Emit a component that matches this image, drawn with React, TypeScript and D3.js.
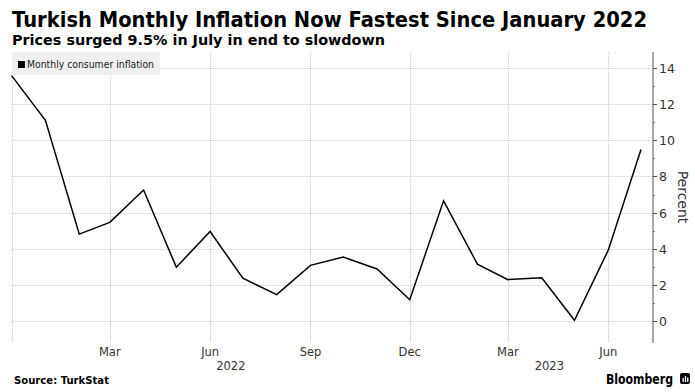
import React, { useEffect, useRef } from "react";
import * as d3 from "d3";

const W = 695;
const H = 392;

// monthly CPI change, Dec 2021 .. Jul 2023
const months = [
  "2021-12", "2022-01", "2022-02", "2022-03", "2022-04", "2022-05", "2022-06",
  "2022-07", "2022-08", "2022-09", "2022-10", "2022-11", "2022-12",
  "2023-01", "2023-02", "2023-03", "2023-04", "2023-05", "2023-06", "2023-07",
];
const inflation = [
  13.58, 11.1, 4.81, 5.46, 7.25, 2.98, 4.95, 2.37, 1.46, 3.08, 3.54, 2.88, 1.18,
  6.65, 3.15, 2.29, 2.39, 0.04, 3.92, 9.49,
];
const monthTicks = ["2022-03", "2022-06", "2022-09", "2022-12", "2023-03", "2023-06"];
const monthLabels = ["Mar", "Jun", "Sep", "Dec", "Mar", "Jun"];
const yearLabels = [
  { label: "2022", at: "2022-06-20" },
  { label: "2023", at: "2023-04-08" },
];
const yTicks = [0, 2, 4, 6, 8, 10, 12, 14];
const yMinor = [1, 3, 5, 7, 9, 11, 13];

const parseMonth = d3.timeParse("%Y-%m");
const parseDay = d3.timeParse("%Y-%m-%d");

const App = () => {
  const svgRef = useRef<SVGSVGElement>(null);

  useEffect(() => {
    const svg = d3.select(svgRef.current);
    svg.selectAll("*").remove();

    const left = 11.6;
    const right = 653;
    const top = 52;
    const bottom = 343;

    const x = d3
      .scaleTime()
      .domain([parseMonth("2021-12")!, parseDay("2023-07-12")!])
      .range([left, right]);
    const y = d3.scaleLinear().domain([0, 14]).range([321, 68]);

    const font = "DejaVu Sans, Verdana, sans-serif";

    // title
    svg.append("text")
      .attr("x", 12).attr("y", 27)
      .attr("font-family", font).attr("font-weight", "bold")
      .attr("font-size", 21)
      .attr("textLength", 635).attr("lengthAdjust", "spacingAndGlyphs")
      .attr("fill", "#000")
      .text("Turkish Monthly Inflation Now Fastest Since January 2022");
    svg.append("text")
      .attr("x", 12).attr("y", 45)
      .attr("font-family", font).attr("font-weight", "bold")
      .attr("font-size", 14.5)
      .attr("textLength", 373).attr("lengthAdjust", "spacingAndGlyphs")
      .attr("fill", "#000")
      .text("Prices surged 9.5% in July in end to slowdown");

    // gridlines
    const grid = svg.append("g")
      .attr("stroke", "#c8c8c8").attr("stroke-width", 1)
      .attr("stroke-dasharray", "1,1").attr("fill", "none");
    yTicks.forEach((v) => {
      grid.append("line")
        .attr("x1", left).attr("x2", right)
        .attr("y1", Math.round(y(v)) + 0.5).attr("y2", Math.round(y(v)) + 0.5);
    });
    [months[0], ...monthTicks].forEach((m) => {
      const xx = Math.round(x(parseMonth(m)!)) + 0.5;
      grid.append("line")
        .attr("x1", xx).attr("x2", xx)
        .attr("y1", top).attr("y2", bottom - 1);
    });

    // legend
    svg.append("rect")
      .attr("x", 12).attr("y", 52).attr("width", 148).attr("height", 23)
      .attr("fill", "#efefef");
    svg.append("rect")
      .attr("x", 18).attr("y", 61).attr("width", 7).attr("height", 7)
      .attr("fill", "#000");
    svg.append("text")
      .attr("x", 27).attr("y", 67.5)
      .attr("font-family", font).attr("font-size", 10.5)
      .attr("textLength", 127).attr("lengthAdjust", "spacingAndGlyphs")
      .attr("fill", "#222")
      .text("Monthly consumer inflation");

    // line
    const line = d3.line<number>()
      .x((_, i) => x(parseMonth(months[i])!))
      .y((d) => y(d));
    svg.append("path")
      .datum(inflation)
      .attr("d", line)
      .attr("fill", "none")
      .attr("stroke", "#000")
      .attr("stroke-width", 1.5)
      .attr("stroke-linejoin", "miter");

    // right axis
    const axis = svg.append("g");
    axis.append("line")
      .attr("x1", right).attr("x2", right)
      .attr("y1", top).attr("y2", bottom)
      .attr("stroke", "#8a8a8a").attr("stroke-width", 1.5);
    yTicks.forEach((v) => {
      const yy = Math.round(y(v)) + 0.5;
      axis.append("line")
        .attr("x1", right).attr("x2", right + 4)
        .attr("y1", yy).attr("y2", yy)
        .attr("stroke", "#555");
      axis.append("text")
        .attr("x", right + 6).attr("y", yy + 4.5)
        .attr("font-family", font).attr("font-size", 12.5)
        .attr("fill", "#333")
        .text(String(v));
    });
    yMinor.forEach((v) => {
      const yy = Math.round(y(v)) + 0.5;
      axis.append("line")
        .attr("x1", right).attr("x2", right + 2)
        .attr("y1", yy).attr("y2", yy)
        .attr("stroke", "#777");
    });
    svg.append("text")
      .attr("transform", `translate(678,197) rotate(90)`)
      .attr("text-anchor", "middle")
      .attr("font-family", font).attr("font-size", 14)
      .attr("fill", "#333")
      .text("Percent");

    // x labels
    monthTicks.forEach((m, i) => {
      svg.append("text")
        .attr("x", x(parseMonth(m)!)).attr("y", 356)
        .attr("text-anchor", "middle")
        .attr("font-family", font).attr("font-size", 11.5)
        .attr("fill", "#333")
        .text(monthLabels[i]);
    });
    yearLabels.forEach((d) => {
      svg.append("text")
        .attr("x", x(parseDay(d.at)!)).attr("y", 370)
        .attr("text-anchor", "middle")
        .attr("font-family", font).attr("font-size", 11.5)
        .attr("fill", "#333")
        .text(d.label);
    });

    // footer
    svg.append("text")
      .attr("x", 14).attr("y", 384)
      .attr("font-family", font).attr("font-weight", "bold")
      .attr("font-size", 11)
      .attr("textLength", 95).attr("lengthAdjust", "spacingAndGlyphs")
      .attr("fill", "#000")
      .text("Source: TurkStat");
    svg.append("text")
      .attr("x", 606).attr("y", 384)
      .attr("font-family", font).attr("font-weight", "bold")
      .attr("font-size", 13.5)
      .attr("textLength", 67).attr("lengthAdjust", "spacingAndGlyphs")
      .attr("fill", "#000")
      .text("Bloomberg");
    svg.append("rect")
      .attr("x", 680).attr("y", 373).attr("width", 10).attr("height", 11)
      .attr("rx", 2).attr("fill", "#000");
    [[682.5, 378, 4], [684.8, 376, 6], [687.1, 377.5, 4.5]].forEach(([bx, by, bh]) => {
      svg.append("rect")
        .attr("x", bx).attr("y", by).attr("width", 1.3).attr("height", bh)
        .attr("fill", "#fff");
    });
  }, []);

  return (
    <svg
      ref={svgRef}
      width={W}
      height={H}
      style={{ position: "absolute", left: 0, top: 0, background: "#fff" }}
    />
  );
};

export default App;
